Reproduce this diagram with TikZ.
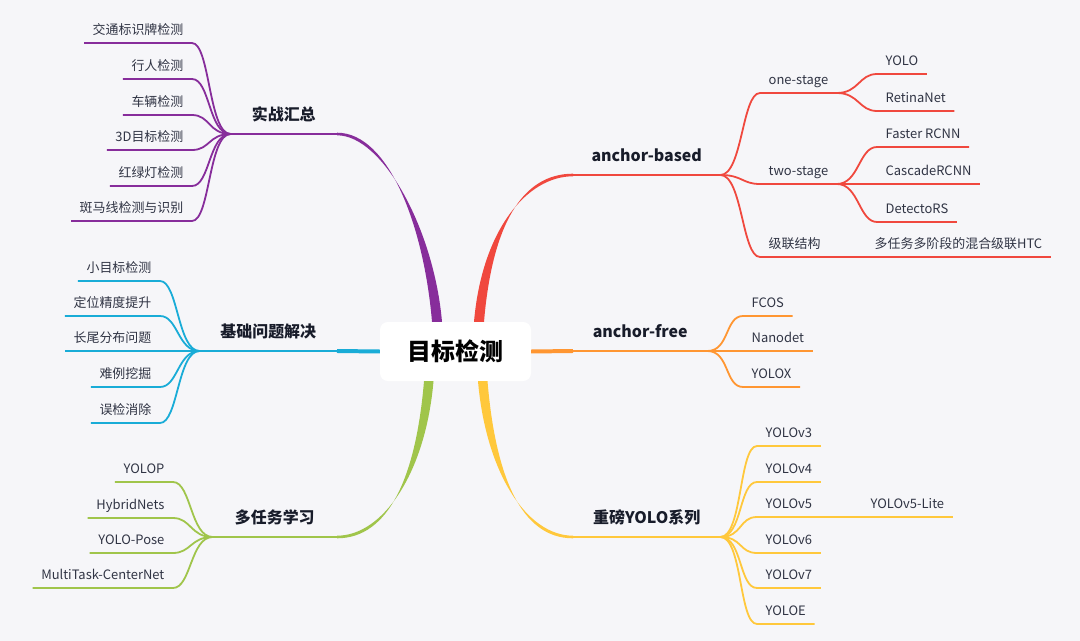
\documentclass[tikz,border=0pt]{standalone}
\usepackage{fontspec}
\setmainfont{Noto Sans CJK SC}
\definecolor{mmbg}{RGB}{246,246,249}
\definecolor{mmtext}{RGB}{48,52,68}
\definecolor{mmdark}{RGB}{24,28,42}
\definecolor{mmpurple}{RGB}{135,45,155}
\definecolor{mmred}{RGB}{240,72,62}
\definecolor{mmorange}{RGB}{255,150,50}
\definecolor{mmyellow}{RGB}{255,200,60}
\definecolor{mmblue}{RGB}{25,172,215}
\definecolor{mmgreen}{RGB}{160,197,75}
\usetikzlibrary{calc}

\begin{document}
\begin{tikzpicture}[
  x=1bp, y=-1bp,
  every node/.style={font=\fontsize{13}{15}\selectfont,text=mmtext},
  leaf/.style={inner xsep=8.5pt,inner ysep=5pt,text height=10pt,text depth=3pt},
  topic/.style={font=\fontsize{16}{18}\selectfont\bfseries,text=mmdark,
                inner xsep=0pt,inner ysep=9pt,text height=12pt,text depth=4pt},
  root/.style={fill=white,rounded corners=8pt,minimum width=151bp,minimum height=59bp,
               font=\fontsize{24}{28}\selectfont\bfseries,text=black},
  twig/.style={line width=1.8pt},
  bough/.style={line width=2.4pt},
  fanL/.style={to path={.. controls +(-22,0) and +(18,0) .. (\tikztotarget)}},
  fanR/.style={to path={.. controls +(22,0) and +(-18,0) .. (\tikztotarget)}},
]
  \useasboundingbox[fill=mmbg] (0,0) rectangle (1080,641);

  % Root
  \node[root] (root) at (455.5,351.5) {目标检测};

  % Main topics
  \node[topic,anchor=south east,minimum width=106bp] (sz) at (337,134) {实战汇总};
  \node[topic,anchor=south east,minimum width=137bp] (jc) at (337,351) {基础问题解决};
  \node[topic,anchor=south east,minimum width=124bp] (dr) at (337,537) {多任务学习};
  \node[topic,anchor=south west,minimum width=147bp] (ab) at (573,175) {anchor-based};
  \node[topic,anchor=south west,minimum width=134bp] (af) at (573,351) {anchor-free};
  \node[topic,anchor=south west,minimum width=147bp] (yl) at (573,537) {重磅YOLO系列};

  % Root to topics
  \fill[mmpurple] ($(root.north)+(-23.5,0)$) .. controls +(-8,-95) and +(52,0) .. ($(sz.south east)+(0,-1.3)$)
    -- ($(sz.south east)+(0,1.3)$) .. controls +(46,0) and +(-8,-92) .. ($(root.north)+(-13.5,0)$) -- cycle;
  \fill[mmred] ($(root.north)+(18.5,0)$) .. controls +(8,-92) and +(-46,0) .. ($(ab.south west)+(0,1.3)$)
    -- ($(ab.south west)+(0,-1.3)$) .. controls +(-52,0) and +(8,-95) .. ($(root.north)+(28.5,0)$) -- cycle;
  \fill[mmgreen] ($(root.south)+(-31.5,0)$) .. controls +(-8,95) and +(52,0) .. ($(dr.south east)+(0,1.3)$)
    -- ($(dr.south east)+(0,-1.3)$) .. controls +(46,0) and +(-8,92) .. ($(root.south)+(-22,0)$) -- cycle;
  \fill[mmyellow] ($(root.south)+(22.5,0)$) .. controls +(8,92) and +(-46,0) .. ($(yl.south west)+(0,-1.3)$)
    -- ($(yl.south west)+(0,1.3)$) .. controls +(-52,0) and +(8,95) .. ($(root.south)+(32,0)$) -- cycle;
  \draw[mmblue,line width=4pt] (root.west) -- (jc.south east);
  \draw[mmorange,line width=4pt] (root.east) -- (af.south west);

  \draw[mmpurple,bough] (sz.south east) -- (sz.south west);
  \draw[mmblue,bough] (jc.south east) -- (jc.south west);
  \draw[mmgreen,bough] (dr.south east) -- (dr.south west);
  \draw[mmred,bough] (ab.south west) -- (ab.south east);
  \draw[mmorange,bough] (af.south west) -- (af.south east);
  \draw[mmyellow,bough] (yl.south west) -- (yl.south east);

  % 实战汇总
  \node[leaf,anchor=south east] (p1) at (192,43) {交通标识牌检测};
  \node[leaf,anchor=south east] (p2) at (192,79) {行人检测};
  \node[leaf,anchor=south east] (p3) at (192,115) {车辆检测};
  \node[leaf,anchor=south east] (p4) at (192,150) {3D目标检测};
  \node[leaf,anchor=south east] (p5) at (192,186) {红绿灯检测};
  \node[leaf,anchor=south east] (p6) at (192,221) {斑马线检测与识别};
  \foreach \n in {p1,p2,p3,p4,p5,p6}
    \draw[mmpurple,twig] (sz.south west) to[fanL] (\n.south east) -- (\n.south west);

  % 基础问题解决
  \node[leaf,anchor=south east] (b1) at (160,281) {小目标检测};
  \node[leaf,anchor=south east] (b2) at (160,316) {定位精度提升};
  \node[leaf,anchor=south east] (b3) at (160,351) {长尾分布问题};
  \node[leaf,anchor=south east] (b4) at (160,387) {难例挖掘};
  \node[leaf,anchor=south east] (b5) at (160,423) {误检消除};
  \foreach \n in {b1,b2,b3,b4,b5}
    \draw[mmblue,twig] (jc.south west) to[fanL] (\n.south east) -- (\n.south west);

  % 多任务学习
  \node[leaf,anchor=south east] (g1) at (173,482) {YOLOP};
  \node[leaf,anchor=south east] (g2) at (173,518) {HybridNets};
  \node[leaf,anchor=south east] (g3) at (173,553) {YOLO-Pose};
  \node[leaf,anchor=south east] (g4) at (173,588) {MultiTask-CenterNet};
  \foreach \n in {g1,g2,g3,g4}
    \draw[mmgreen,twig] (dr.south west) to[fanL] (\n.south east) -- (\n.south west);

  % anchor-based
  \node[leaf,anchor=south west] (r1) at (760,93) {one-stage};
  \node[leaf,anchor=south west] (r2) at (760,184) {two-stage};
  \node[leaf,anchor=south west] (r3) at (760,257) {级联结构};
  \foreach \n in {r1,r2,r3}
    \draw[mmred,twig] (ab.south east) to[fanR] (\n.south west) -- (\n.south east);
  \node[leaf,anchor=south west] (r11) at (877,74) {YOLO};
  \node[leaf,anchor=south west] (r12) at (877,111) {RetinaNet};
  \foreach \n in {r11,r12}
    \draw[mmred,twig] (r1.south east) to[fanR] (\n.south west) -- (\n.south east);
  \node[leaf,anchor=south west] (r21) at (877,147) {Faster RCNN};
  \node[leaf,anchor=south west] (r22) at (877,184) {CascadeRCNN};
  \node[leaf,anchor=south west] (r23) at (877,222) {DetectoRS};
  \foreach \n in {r21,r22,r23}
    \draw[mmred,twig] (r2.south east) to[fanR] (\n.south west) -- (\n.south east);
  \node[leaf,anchor=south west] (r31) at (866,257) {多任务多阶段的混合级联HTC};
  \draw[mmred,twig] (r3.south east) -- (r31.south west) -- (r31.south east);

  % anchor-free
  \node[leaf,anchor=south west] (o1) at (743,316) {FCOS};
  \node[leaf,anchor=south west] (o2) at (743,351) {Nanodet};
  \node[leaf,anchor=south west] (o3) at (743,387) {YOLOX};
  \foreach \n in {o1,o2,o3}
    \draw[mmorange,twig] (af.south east) to[fanR] (\n.south west) -- (\n.south east);

  % 重磅YOLO系列
  \node[leaf,anchor=south west] (y3) at (757,446) {YOLOv3};
  \node[leaf,anchor=south west] (y4) at (757,482) {YOLOv4};
  \node[leaf,anchor=south west] (y5) at (757,517) {YOLOv5};
  \node[leaf,anchor=south west] (y6) at (757,553) {YOLOv6};
  \node[leaf,anchor=south west] (y7) at (757,588) {YOLOv7};
  \node[leaf,anchor=south west] (ye) at (757,624) {YOLOE};
  \foreach \n in {y3,y4,y5,y6,y7,ye}
    \draw[mmyellow,twig] (yl.south east) to[fanR] (\n.south west) -- (\n.south east);
  \node[leaf,anchor=south west] (y51) at (862,517) {YOLOv5-Lite};
  \draw[mmyellow,twig] (y5.south east) -- (y51.south west) -- (y51.south east);
\end{tikzpicture}
\end{document}
